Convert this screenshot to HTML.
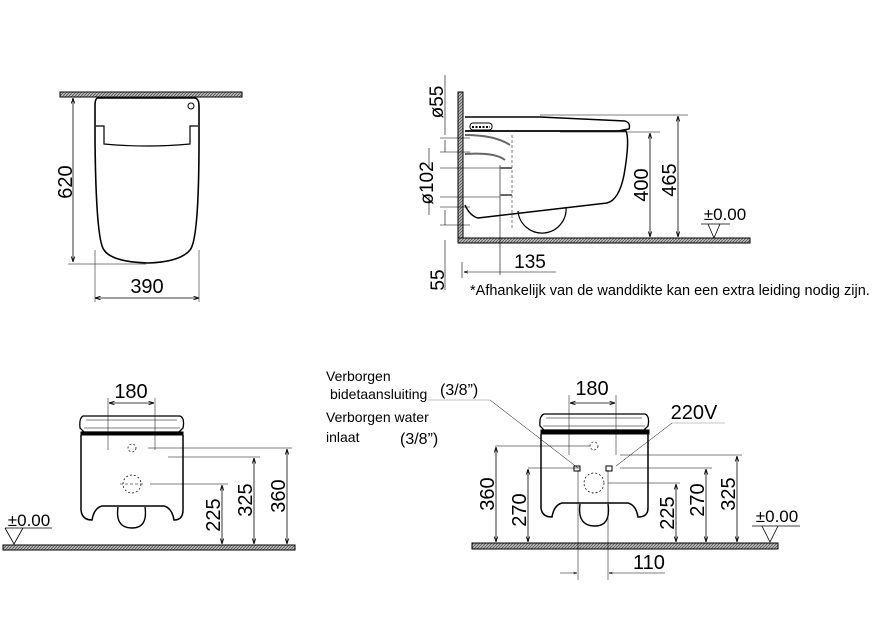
<!DOCTYPE html>
<html><head><meta charset="utf-8"><style>
html,body{margin:0;padding:0;background:#fff;}
svg{display:block;}
text{font-family:"Liberation Sans",sans-serif;fill:#000;}
</style></head><body>
<svg width="896" height="636" viewBox="0 0 896 636" xmlns="http://www.w3.org/2000/svg">
<defs>
<pattern id="h" width="3" height="3" patternUnits="userSpaceOnUse"><rect width="3" height="3" fill="#bbb"/><path d="M0 3L3 0" stroke="#555" stroke-width="0.8"/></pattern>
<marker id="a" viewBox="0 0 10 10" refX="10" refY="5" markerWidth="7" markerHeight="7" orient="auto-start-reverse"><path d="M0 2L10 5L0 8" fill="none" stroke="#000" stroke-width="1.5"/></marker>
</defs>
<g fill="none" stroke="#000" stroke-width="1">
<!-- Drawing 1 -->
<rect x="60" y="92" width="182" height="5" fill="url(#h)" stroke="#000"/>
<path d="M98 98 H194 Q199 98 199 106 V140 Q199 240 190 250 Q180 262 148 263 Q112 262 104 250 Q96 240 95 140 V106 Q95 98 98 98Z" stroke-width="1.6"/>
<path d="M96 126 H104 V144 Q148 148 190 144 V126 H198" stroke-width="1.2"/>
<circle cx="191" cy="106" r="3"/>
<line x1="73" y1="98" x2="73" y2="262" marker-start="url(#a)" marker-end="url(#a)" stroke-width="0.8"/>
<line x1="68" y1="264" x2="146" y2="264" stroke-width="0.5"/>
<line x1="95" y1="250" x2="95" y2="302" stroke-width="0.5"/>
<line x1="199" y1="250" x2="199" y2="302" stroke-width="0.5"/>
<line x1="95" y1="298" x2="199" y2="298" marker-start="url(#a)" marker-end="url(#a)" stroke-width="0.8"/>

<!-- Drawing 2 -->
<rect x="458" y="92" width="5" height="151" fill="url(#h)" stroke="#000"/>
<rect x="458" y="238" width="292" height="5" fill="url(#h)" stroke="#000"/>
<path d="M465 117 H540 L625 121 Q631 123 629 129 L618 131 H465" stroke-width="1.4"/>
<path d="M465 131 H626 Q630 140 624 175 Q619 200 607 203 L478 218 Q470 216 465 205" stroke-width="1.5"/>
<path d="M518 211 A22 22 0 0 0 566 207" stroke-width="1.2"/>
<rect x="470" y="123" width="22" height="7" rx="3" fill="#fff"/>
<path d="M472 127h18" stroke-width="2" stroke-dasharray="2 1.5"/>
<path d="M465 135 Q495 135 510 145" stroke="#666" stroke-width="2"/>
<path d="M465 154 Q495 152 505 160" stroke="#666" stroke-width="2"/>
<line x1="500" y1="165" x2="500" y2="275" stroke-width="0.6"/>
<line x1="512" y1="135" x2="512" y2="230" stroke-width="0.5" stroke-dasharray="3 2"/>
<line x1="500" y1="168" x2="512" y2="168" stroke="#666" stroke-width="2"/>
<line x1="500" y1="195" x2="512" y2="195" stroke="#666" stroke-width="2"/>
<g stroke-width="0.6">
<line x1="445" y1="75" x2="445" y2="135" />
<line x1="440" y1="138" x2="470" y2="138"/>
<line x1="440" y1="152" x2="470" y2="152"/>
<line x1="440" y1="168" x2="500" y2="168"/>
<line x1="440" y1="197" x2="500" y2="197"/>
<line x1="440" y1="207" x2="470" y2="207"/>
<line x1="440" y1="225" x2="470" y2="225"/>
<line x1="445" y1="140" x2="445" y2="152"/>
<line x1="429" y1="148" x2="429" y2="168"/>
<line x1="429" y1="197" x2="429" y2="215"/>
<line x1="445" y1="210" x2="445" y2="225"/>
<line x1="445" y1="240" x2="445" y2="290"/>
<line x1="462" y1="262" x2="462" y2="278"/>
<line x1="464" y1="272" x2="498" y2="272" marker-start="url(#a)"/>
<line x1="498" y1="272" x2="556" y2="272"/>
<line x1="560" y1="132" x2="660" y2="132"/>
<line x1="540" y1="115" x2="688" y2="115"/>
</g>
<line x1="650" y1="133" x2="650" y2="237" marker-start="url(#a)" marker-end="url(#a)" stroke-width="0.8"/>
<line x1="678" y1="116" x2="678" y2="237" marker-start="url(#a)" marker-end="url(#a)" stroke-width="0.8"/>
<path d="M701 224 H730 M708 224 L714 238 L720 224" stroke-width="0.8"/>

<!-- Drawing 3 -->
<rect x="3" y="545" width="292" height="5" fill="url(#h)" stroke="#000"/>
<path d="M83 416 H180 Q185 418 183 428 L179 432 H84 L80 428 Q79 418 83 416Z" stroke-width="1.3"/>
<path d="M86 420 H177 M84 428 H180" stroke-width="0.6"/>
<rect x="81" y="432" width="102" height="3" fill="#000"/>
<path d="M81 435 V510 Q82 520 92 520 Q94 508 102 506 H164 Q172 508 174 520 Q183 520 183 510 V435" stroke-width="1.5"/>
<path d="M118 507 Q115 528 132 528 Q148 528 145 507" stroke-width="1.4"/>
<circle cx="132" cy="484" r="9" stroke-dasharray="2 2" stroke-width="0.7"/>
<circle cx="132" cy="448" r="4" stroke-dasharray="2 2" stroke-width="0.7"/>
<g stroke-width="0.5">
<line x1="108" y1="398" x2="108" y2="450"/><line x1="155" y1="398" x2="155" y2="450"/>
<line x1="148" y1="448" x2="292" y2="448"/>
<line x1="168" y1="457" x2="260" y2="457"/>
<line x1="150" y1="484" x2="228" y2="484"/>
<line x1="120" y1="484" x2="145" y2="484" stroke-dasharray="3 2"/>
</g>
<line x1="109" y1="403" x2="154" y2="403" marker-start="url(#a)" marker-end="url(#a)" stroke-width="0.8"/>
<line x1="222" y1="485" x2="222" y2="544" marker-start="url(#a)" marker-end="url(#a)" stroke-width="0.8"/>
<line x1="254" y1="458" x2="254" y2="544" marker-start="url(#a)" marker-end="url(#a)" stroke-width="0.8"/>
<line x1="287" y1="449" x2="287" y2="544" marker-start="url(#a)" marker-end="url(#a)" stroke-width="0.8"/>
<path d="M5 528 H52 M5 528 L14 544 L23 528" stroke-width="0.8"/>

<!-- Drawing 4 -->
<rect x="472" y="543" width="306" height="6" fill="url(#h)" stroke="#000"/>
<path d="M544 414 H645 Q650 416 648 426 L644 430 H544 L540 426 Q539 416 544 414Z" stroke-width="1.3"/>
<path d="M546 418 H642 M543 426 H645" stroke-width="0.6"/>
<rect x="541" y="430" width="108" height="4" fill="#000"/>
<path d="M541 434 V508 Q542 517 552 517 Q554 505 562 503 H628 Q636 505 638 517 Q648 517 648 508 V434" stroke-width="1.5"/>
<path d="M580 504 Q577 526 595 526 Q611 526 608 504" stroke-width="1.4"/>
<circle cx="594" cy="483" r="10" stroke-dasharray="2 2" stroke-width="0.7"/>
<circle cx="594" cy="446" r="4" stroke-dasharray="2 2" stroke-width="0.7"/>
<g stroke-width="0.5">
<line x1="569" y1="395" x2="569" y2="455"/><line x1="616" y1="395" x2="616" y2="455"/>
<line x1="495" y1="446" x2="590" y2="446"/>
<line x1="620" y1="455" x2="742" y2="455"/>
<line x1="528" y1="468" x2="580" y2="468"/>
<line x1="620" y1="468" x2="712" y2="468"/>
<line x1="608" y1="483" x2="680" y2="483"/>
<line x1="578" y1="470" x2="578" y2="580"/>
<line x1="608" y1="470" x2="608" y2="580"/>
<line x1="560" y1="573" x2="577" y2="573" marker-end="url(#a)"/>
<line x1="609" y1="573" x2="665" y2="573" marker-start="url(#a)"/>
<line x1="428" y1="400" x2="490" y2="400" stroke="#888"/>
<line x1="490" y1="400" x2="578" y2="468"/>
<line x1="616" y1="466" x2="672" y2="423"/>
<line x1="672" y1="423" x2="725" y2="423" stroke="#888"/>
</g>
<rect x="574" y="466" width="6" height="5"/>
<rect x="606" y="466" width="6" height="5"/>
<line x1="570" y1="403" x2="615" y2="403" marker-start="url(#a)" marker-end="url(#a)" stroke-width="0.8"/>
<line x1="496" y1="447" x2="496" y2="542" marker-start="url(#a)" marker-end="url(#a)" stroke-width="0.8"/>
<line x1="528" y1="469" x2="528" y2="542" marker-start="url(#a)" marker-end="url(#a)" stroke-width="0.8"/>
<line x1="676" y1="484" x2="676" y2="542" marker-start="url(#a)" marker-end="url(#a)" stroke-width="0.8"/>
<line x1="706" y1="469" x2="706" y2="542" marker-start="url(#a)" marker-end="url(#a)" stroke-width="0.8"/>
<line x1="737" y1="456" x2="737" y2="542" marker-start="url(#a)" marker-end="url(#a)" stroke-width="0.8"/>
<path d="M752 526 H800 M762 526 L770 542 L778 526" stroke-width="0.8"/>
</g>

<g font-size="20">
<text transform="translate(72,182) rotate(-90)" text-anchor="middle">620</text>
<text x="147" y="293" text-anchor="middle">390</text>
<text transform="translate(443,102) rotate(-90)" text-anchor="middle" font-size="19">ø55</text>
<text transform="translate(433,183) rotate(-90)" text-anchor="middle" font-size="19">ø102</text>
<text transform="translate(444,280) rotate(-90)" text-anchor="middle" font-size="19">55</text>
<text x="530" y="268" text-anchor="middle" font-size="19">135</text>
<text transform="translate(648,185) rotate(-90)" text-anchor="middle">400</text>
<text transform="translate(676,180) rotate(-90)" text-anchor="middle">465</text>
<text x="725" y="220" text-anchor="middle" font-size="17">±0.00</text>
<text x="131" y="398" text-anchor="middle">180</text>
<text transform="translate(220,515) rotate(-90)" text-anchor="middle">225</text>
<text transform="translate(252,500) rotate(-90)" text-anchor="middle">325</text>
<text transform="translate(285,496) rotate(-90)" text-anchor="middle">360</text>
<text x="29" y="526" text-anchor="middle" font-size="17">±0.00</text>
<text x="592" y="395" text-anchor="middle">180</text>
<text x="694" y="419" text-anchor="middle">220V</text>
<text transform="translate(494,494) rotate(-90)" text-anchor="middle">360</text>
<text transform="translate(526,510) rotate(-90)" text-anchor="middle">270</text>
<text transform="translate(674,513) rotate(-90)" text-anchor="middle">225</text>
<text transform="translate(704,500) rotate(-90)" text-anchor="middle">270</text>
<text transform="translate(735,494) rotate(-90)" text-anchor="middle">325</text>
<text x="777" y="522" text-anchor="middle" font-size="17">±0.00</text>
<text x="649" y="569" text-anchor="middle">110</text>
</g>
<g font-size="14">
<text x="470" y="295" font-size="14.5">*Afhankelijk van de wanddikte kan een extra leiding nodig zijn.</text>
<text x="326" y="381">Verborgen</text>
<text x="330" y="399">bidetaansluiting</text>
<text x="326" y="422">Verborgen water</text>
<text x="326" y="442">inlaat</text>
<text x="440" y="395" font-size="16">(3/8”)</text>
<text x="400" y="444" font-size="16">(3/8”)</text>
</g>
</svg>
</body></html>
